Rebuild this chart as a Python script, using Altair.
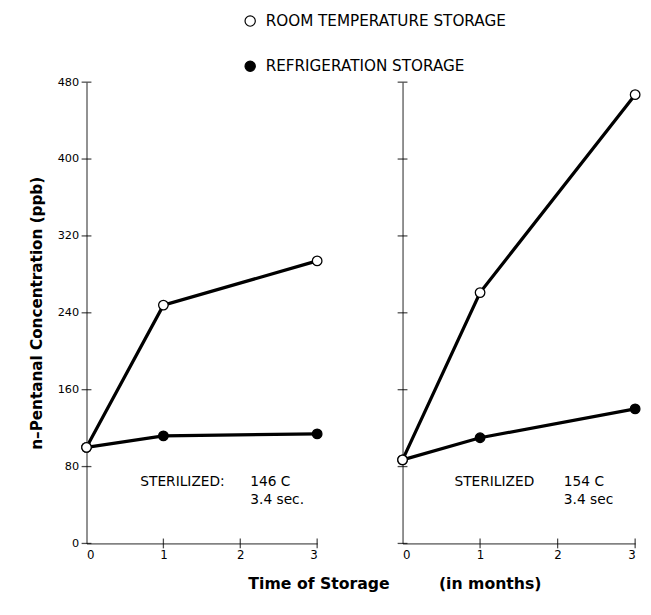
import altair as alt
import pandas as pd

# ---- data ----
months = [0, 1, 3]
left_room = [100, 248, 294]
left_refrig = [100, 112, 114]
right_room = [87, 261, 467]
right_refrig = [87, 110, 140]
series = ["ROOM TEMPERATURE STORAGE", "REFRIGERATION STORAGE"]
y_ticks = [0, 80, 160, 240, 320, 400, 480]
x_ticks = [0, 1, 2, 3]

# annotation texts (word, x in months, y in ppb)
left_note_text = ["STERILIZED:", "146 C", "3.4 sec."]
left_note_x = [0.70, 2.13, 2.13]
left_note_y = [64, 64, 45]
right_note_text = ["STERILIZED", "154 C", "3.4 sec"]
right_note_x = [0.67, 2.08, 2.08]
right_note_y = [64, 64, 45]

FONT = "DejaVu Sans"
TITLE_FONT = "DejaVu Sans"
NBSP = "\u00a0"


def panel(room, refrig, note_text, note_x, note_y, first, width):
    df = pd.DataFrame({
        "month": months * 2,
        "value": room + refrig,
        "series": [series[0]] * 3 + [series[1]] * 3,
        "order": [1] * 3 + [0] * 3,
    })
    xs = alt.Scale(domain=[0, 3], nice=False, zero=False)
    ys = alt.Scale(domain=[0, 480], nice=False)
    x_axis = alt.Axis(values=x_ticks, ticks=False, grid=False, labelPadding=6,
                      title=None, format="d", domainColor="#222", domainWidth=1,
                      labelFont=FONT, labelFontSize=12, labelColor="black")
    if first:
        y_axis = alt.Axis(values=y_ticks, ticks=False, grid=False, labelPadding=8,
                          title="n\u2013Pentanal Concentration (ppb)",
                          titleFont=TITLE_FONT, titleFontSize=15.5, titleFontWeight="bold",
                          titlePadding=13, titleColor="black",
                          domainColor="#222", domainWidth=1,
                          labelFont=FONT, labelFontSize=11.5, labelColor="black")
    else:
        y_axis = alt.Axis(values=y_ticks, ticks=False, grid=False, labels=False,
                          title=None, domainColor="#222", domainWidth=1)

    x = alt.X("month:Q", scale=xs, axis=x_axis)
    y = alt.Y("value:Q", scale=ys, axis=y_axis)

    lines = alt.Chart(df).mark_line(color="black", strokeWidth=3.3).encode(
        x=x, y=y, detail="series:N")
    pts = alt.Chart(df).mark_circle(stroke="black", strokeWidth=1.3, size=95,
                                    opacity=1).encode(
        x=x, y=y,
        fill=alt.Fill("series:N",
                      scale=alt.Scale(domain=series, range=["white", "black"]),
                      legend=alt.Legend(orient="none", legendX=159, legendY=-70,
                                        title=None, direction="vertical",
                                        labelFont=FONT, labelFontSize=15.5,
                                        labelLimit=0,
                                        labelColor="black", rowPadding=29,
                                        symbolSize=110, symbolStrokeColor="black",
                                        symbolStrokeWidth=1.2, labelOffset=8,
                                        symbolType="circle")),
        order=alt.Order("order:Q"))

    yt = pd.DataFrame({"v": y_ticks, "z": [0] * len(y_ticks)})
    xt = pd.DataFrame({"v": x_ticks[1:], "z": [0] * (len(x_ticks) - 1)})
    ytick = alt.Chart(yt).mark_tick(orient="horizontal", size=10, thickness=1.3,
                                    color="black").encode(
        x=alt.X("z:Q", scale=xs), y=alt.Y("v:Q", scale=ys))
    xtick = alt.Chart(xt).mark_tick(orient="vertical", size=10, thickness=1.3,
                                    color="black").encode(
        x=alt.X("v:Q", scale=xs), y=alt.Y("z:Q", scale=ys))

    nd = pd.DataFrame({"t": note_text, "x": note_x, "y": note_y})
    notes = alt.Chart(nd).mark_text(align="left", baseline="middle", font=FONT,
                                    fontSize=14, color="black").encode(
        x=alt.X("x:Q", scale=xs), y=alt.Y("y:Q", scale=ys), text="t:N")

    return alt.layer(lines, ytick, xtick, pts, notes).properties(width=width, height=470)


left = panel(left_room, left_refrig, left_note_text, left_note_x, left_note_y, True, 235)
right = panel(right_room, right_refrig, right_note_text, right_note_x, right_note_y, False, 237)

chart = alt.hconcat(left, right, spacing=71).properties(
    title=alt.TitleParams("Time of Storage" + NBSP * 9 + "(in months)",
                          orient="bottom", anchor="middle", font=TITLE_FONT,
                          fontSize=16, fontWeight="bold", color="black",
                          offset=16, dx=60),
    padding={"left": 22, "top": 0, "right": 0, "bottom": 0},
).configure_view(stroke=None).configure_axis(labelFont=FONT)

chart.save("out.html", embed_options={"renderer": "svg", "actions": False})
